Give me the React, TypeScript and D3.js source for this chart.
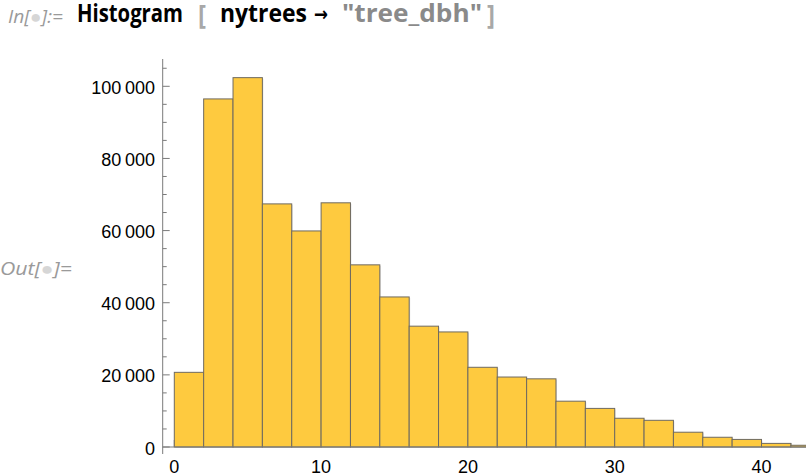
import React from "react";
import * as d3 from "d3";

const binStarts = [0, 2, 4, 6, 8, 10, 12, 14, 16, 18, 20, 22, 24, 26, 28, 30, 32, 34, 36, 38, 40, 42];
const binWidth = 2;
const counts = [20700, 96500, 102400, 67400, 59900, 67700, 50500, 41600, 33500, 31900, 22100, 19400, 18900, 12700, 10700, 7970, 7400, 4100, 2700, 2100, 1000, 480];
const yMajorTicks = [0, 20000, 40000, 60000, 80000, 100000];
const xMajorTicks = [0, 10, 20, 30, 40];

const W = 806;
const H = 474;

export default function App() {
  const x = d3.scaleLinear().domain([0, 44]).range([174.3, 174.3 + 44 * 14.68]);
  const y = d3.scaleLinear().domain([0, 100000]).range([447, 86.3]);
  const yMinor = d3.range(0, 105001, 5000).filter((v) => v % 20000 !== 0);
  const xMinor = d3.range(0, 44, 2).filter((v) => v % 10 !== 0);
  const fmt = (v: number) => (v === 0 ? "0" : d3.format(",")(v).replace(/,/g, "\u2009"));
  const axisColor = "#7a7a7a";
  const axisX = 162.7;
  const labelFont = "'Liberation Sans', Arial, sans-serif";
  const headFont = "'Open Sans', 'Noto Sans', sans-serif";

  return (
    <svg width={W} height={H} style={{ position: "absolute", left: 0, top: 0, background: "#fff" }}>
      {/* header */}
      <g fontFamily={headFont}>
        <text x={8} y={23} fontSize={18} fontStyle="italic" fill="#9a9a9a" textLength={55} lengthAdjust="spacingAndGlyphs">
          In[<tspan fill="#d6d6d6">●</tspan>]:=
        </text>
        <text x={77} y={22} fontSize={25} fontWeight="bold" fill="#000" textLength={106} lengthAdjust="spacingAndGlyphs">Histogram</text>
        <text x={198} y={24} fontSize={27} fontWeight="bold" fill="#a8a8a8" textLength={8} lengthAdjust="spacingAndGlyphs">[</text>
        <text x={220} y={22} fontSize={25} fontWeight="bold" fill="#000" textLength={87} lengthAdjust="spacingAndGlyphs">nytrees</text>
        <text x={314} y={21} fontSize={20} fontWeight="bold" fontFamily="'DejaVu Sans', sans-serif" fill="#000" textLength={14} lengthAdjust="spacingAndGlyphs">→</text>
        <text x={342} y={22} fontSize={25} fontWeight="bold" fill="#8a8a8a" textLength={140} lengthAdjust="spacingAndGlyphs">"tree_dbh"</text>
        <text x={487} y={24} fontSize={27} fontWeight="bold" fill="#a8a8a8" textLength={8} lengthAdjust="spacingAndGlyphs">]</text>
        <text x={0} y={275} fontSize={18} fontStyle="italic" fill="#9a9a9a" textLength={72} lengthAdjust="spacingAndGlyphs">
          Out[<tspan fill="#d6d6d6">●</tspan>]=
        </text>
      </g>

      {/* x ticks (under bars) */}
      <g stroke={axisColor} strokeWidth={1}>
        {xMajorTicks.map((t) => (
          <line key={"xM" + t} x1={x(t)} x2={x(t)} y1={447} y2={440} />
        ))}
        {xMinor.map((t) => (
          <line key={"xm" + t} x1={x(t)} x2={x(t)} y1={447} y2={443} />
        ))}
      </g>

      {/* bars */}
      <g>
        {binStarts.map((s, i) => (
          <g key={"b" + i}>
            <rect
              x={x(s) + 1}
              y={y(counts[i]) + 1}
              width={x(s + binWidth) - x(s)}
              height={y(0) - y(counts[i])}
              fill="#d0d0d0"
              opacity={0.6}
            />
            <rect
              x={x(s)}
              y={y(counts[i])}
              width={x(s + binWidth) - x(s)}
              height={y(0) - y(counts[i])}
              fill="#FECA3F"
              stroke="#6f6a60"
              strokeWidth={1}
            />
          </g>
        ))}
      </g>

      {/* axes */}
      <g stroke={axisColor} strokeWidth={1} fill="none">
        <line x1={axisX} x2={axisX} y1={59} y2={454} />
        <line x1={axisX} x2={W} y1={447} y2={447} />
        {yMajorTicks.map((t) => (
          <line key={"yM" + t} x1={axisX} x2={axisX + 7} y1={y(t)} y2={y(t)} />
        ))}
        {yMinor.map((t) => (
          <line key={"ym" + t} x1={axisX} x2={axisX + 4} y1={y(t)} y2={y(t)} />
        ))}
      </g>

      {/* labels */}
      <g fontFamily={labelFont} fontSize={18} fill="#000">
        {yMajorTicks.map((t) => (
          <text key={"yl" + t} x={155} y={y(t) + 1.5} textAnchor="end" dominantBaseline="central">
            {fmt(t)}
          </text>
        ))}
        {xMajorTicks.map((t) => (
          <text key={"xl" + t} x={x(t)} y={473} textAnchor="middle">
            {t}
          </text>
        ))}
      </g>
    </svg>
  );
}
